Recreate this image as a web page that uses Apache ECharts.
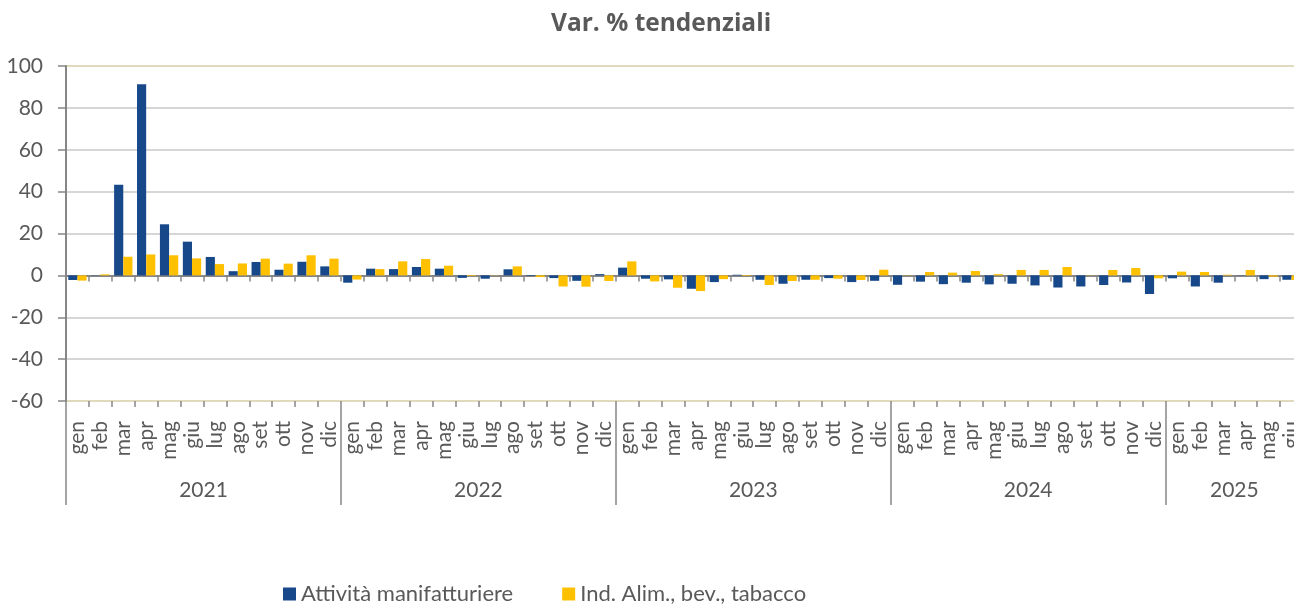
<!DOCTYPE html>
<html>
<head>
<meta charset="utf-8">
<script src="https://cdn.jsdelivr.net/npm/echarts@6/dist/echarts.min.js"></script>
<style>
  html, body { margin: 0; padding: 0; background: #fff; }
  #chart { width: 1294px; height: 606px; }
</style>
</head>
<body>
<div id="chart"></div>
<script>
// mesi e anni sull'asse x
const monthNames = ['gen', 'feb', 'mar', 'apr', 'mag', 'giu', 'lug', 'ago', 'set', 'ott', 'nov', 'dic']
const years = ['2021', '2022', '2023', '2024', '2025']
const monthsPerYear = [12, 12, 12, 12, 6]

// var. % tendenziali
const manifatturiere = [
  -2.2, 0.1, 43.3, 91.3, 24.4, 16.1, 8.8, 2.0, 6.4, 2.7, 6.5, 4.3,
  -3.5, 3.2, 3.0, 4.0, 3.2, -1.2, -1.6, 2.9, -0.3, -1.3, -2.6, 0.6,
  3.7, -1.6, -1.9, -6.4, -3.2, 0.3, -2.1, -4.0, -2.1, -1.3, -3.2, -2.6,
  -4.5, -3.0, -4.2, -3.5, -4.3, -4.0, -4.8, -5.8, -5.3, -4.6, -3.4, -8.9,
  -1.4, -5.3, -3.5, 0.1, -1.8, -2.1
]
const alimentari = [
  -2.5, 0.5, 8.9, 10.0, 9.6, 8.1, 5.4, 5.7, 8.0, 5.6, 9.6, 8.0,
  -2.0, 3.0, 6.7, 7.8, 4.6, -0.3, 0.1, 4.3, -0.8, -5.3, -5.4, -2.7,
  6.7, -2.9, -5.9, -7.5, -1.8, -0.3, -4.6, -2.7, -2.1, -1.6, -2.2, 2.7,
  0.1, 1.6, 1.3, 2.1, 0.6, 2.6, 2.6, 4.0, 0.1, 2.6, 3.5, -1.4,
  1.8, 1.6, 0.3, 2.6, -0.6, -2.2
]

const seriesNames = ['Attività manifatturiere', 'Ind. Alim., bev., tabacco']

// categorie: una per mese, più indici di inizio e metà di ogni anno
const categories = []
const yearStart = []
const yearMiddle = []
years.forEach((y, i) => {
  yearStart.push(categories.length)
  yearMiddle.push(categories.length + monthsPerYear[i] / 2 - 1)
  for (let m = 0; m < monthsPerYear[i]; m++) {
    categories.push(monthNames[m])
  }
})
const yearOfIndex = idx => {
  let k = 0
  while (k + 1 < yearStart.length && yearStart[k + 1] <= idx) k++
  return years[k]
}

const textColor = '#595959'
const axisColor = '#868686'
const font = 'Lato'

const chart = echarts.init(document.getElementById('chart'))
const option = {
  animation: false,
  title: {
    text: 'Var. % tendenziali',
    left: 546,
    top: 7,
    textStyle: { fontFamily: 'Open Sans', fontWeight: 'bold', fontSize: 24.5, color: textColor }
  },
  // la griglia esce un po' a destra: l'ultimo mese è tagliato
  grid: { left: 66, top: 66, width: 1237, height: 335, outerBoundsMode: 'none' },
  legend: {
    left: 278,
    top: 578,
    itemWidth: 13,
    itemHeight: 13,
    itemGap: 49,
    icon: 'rect',
    textStyle: { fontFamily: font, fontSize: 22, color: textColor },
    data: seriesNames
  },
  yAxis: {
    type: 'value',
    min: -60,
    max: 100,
    interval: 20,
    axisLine: { show: true, lineStyle: { color: axisColor, width: 2 } },
    axisTick: { show: true, length: 8, lineStyle: { color: axisColor, width: 1.5 } },
    axisLabel: { fontFamily: font, fontSize: 21, color: textColor, margin: 23 },
    splitLine: {
      lineStyle: {
        // prima e ultima linea color sabbia, le altre grigie
        color: ['#D6CCA6', '#C9C9C9', '#C9C9C9', '#C9C9C9', '#C9C9C9', '#C9C9C9', '#C9C9C9', '#C9C9C9'],
        width: 1.5
      }
    }
  },
  xAxis: [
    {
      // asse sullo zero
      type: 'category',
      data: categories,
      position: 'bottom',
      axisLine: { onZero: true, lineStyle: { color: axisColor, width: 2 } },
      axisTick: { show: true, interval: 0, length: 6, lineStyle: { color: axisColor, width: 1.5 } },
      axisLabel: { show: false }
    },
    {
      // mesi in basso
      type: 'category',
      data: categories,
      position: 'bottom',
      axisLine: { show: false, onZero: false },
      axisTick: { show: true, interval: 0, length: 6, lineStyle: { color: axisColor, width: 1.5 } },
      axisLabel: { interval: 0, rotate: 90, margin: 20, fontFamily: font, fontSize: 21, color: textColor }
    },
    {
      // anni
      type: 'category',
      data: categories,
      position: 'bottom',
      axisLine: { show: false, onZero: false },
      axisTick: {
        show: true,
        interval: idx => yearStart.includes(idx),
        length: 104,
        lineStyle: { color: axisColor, width: 1.5 }
      },
      axisLabel: {
        interval: idx => yearMiddle.includes(idx),
        formatter: (v, idx) => yearOfIndex(idx),
        margin: 79,
        padding: [0, 0, 0, 23],
        fontFamily: font,
        fontSize: 21,
        color: textColor
      }
    }
  ],
  series: [
    {
      name: seriesNames[0],
      type: 'bar',
      data: manifatturiere,
      barGap: '0%',
      barCategoryGap: '20%',
      itemStyle: { color: '#17498A' }
    },
    {
      name: seriesNames[1],
      type: 'bar',
      data: alimentari,
      itemStyle: { color: '#FFC000' }
    }
  ]
}
chart.setOption(option)
</script>
</body>
</html>
